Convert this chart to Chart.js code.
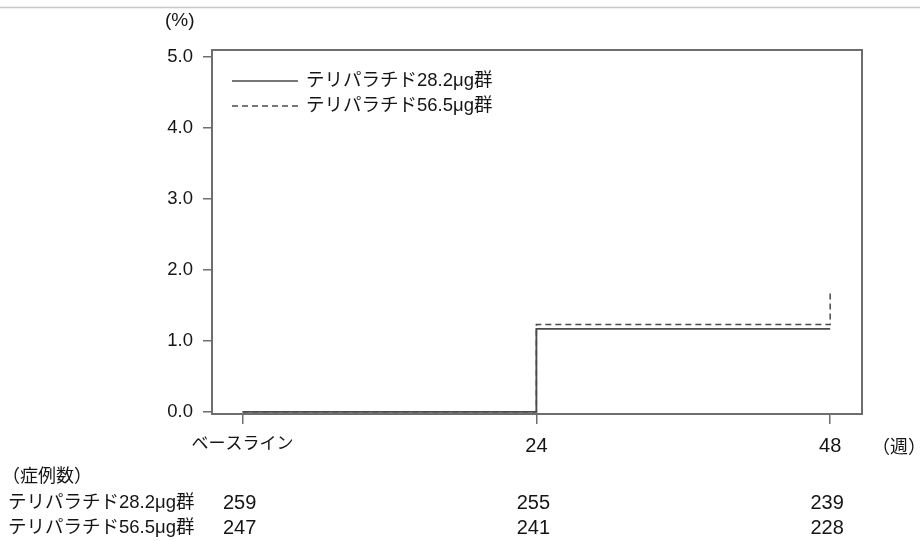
<!DOCTYPE html>
<html lang="ja">
<head>
<meta charset="utf-8">
<script src="https://cdn.jsdelivr.net/npm/chart.js@4/dist/chart.umd.min.js"></script>
<style>
  html, body { margin: 0; padding: 0; background: #fff; }
  #wrap { width: 920px; height: 541px; }
</style>
</head>
<body>
<div id="wrap"><canvas id="c" width="920" height="541"></canvas></div>
<script>
// 累積発現率（%）の推移：テリパラチド2用量群
const tickWeeks = [0, 24, 48];
const tickLabels = ['ベースライン', '24', '48'];
const yTicks = [0, 1, 2, 3, 4, 5];

const seriesNames = ['テリパラチド28.2μg群', 'テリパラチド56.5μg群'];
const weeks28 = [0, 24, 48];
const rate28 = [0, 1.17, 1.17];
const weeks56 = [0, 24, 48, 48];
const rate56 = [0, 1.23, 1.23, 1.67];

// 症例数（各時点）
const atRisk28 = [259, 255, 239];
const atRisk56 = [247, 241, 228];

const FONT_NUM = "'Liberation Sans', Arial, 'Noto Sans CJK JP', sans-serif";
const FONT_JP = "'Noto Sans CJK JP', sans-serif";
const INK = '#151515';
const AXIS = '#6e6e6e';

const toPoints = (xs, ys) => xs.map((x, i) => ({ x: x, y: ys[i] }));

// 枠・凡例・症例数表・上端の罫線
const decorPlugin = {
  id: 'decor',
  afterDraw(chart) {
    const ctx = chart.ctx;
    const a = chart.chartArea;
    const xs = chart.scales.x;
    ctx.save();

    // 上端の罫線
    ctx.strokeStyle = '#c8c8c8';
    ctx.lineWidth = 1.5;
    ctx.beginPath();
    ctx.moveTo(0, 7.5);
    ctx.lineTo(920, 7.5);
    ctx.stroke();

    // プロット枠
    ctx.strokeStyle = AXIS;
    ctx.lineWidth = 2;
    ctx.strokeRect(a.left, a.top, a.right - a.left, a.bottom - a.top);

    // 単位
    ctx.fillStyle = INK;
    ctx.textBaseline = 'middle';
    ctx.textAlign = 'left';
    ctx.font = "19px " + FONT_NUM;
    ctx.fillText('(%)', 165, 21);
    ctx.font = "18px " + FONT_JP;
    ctx.fillText('（週）', 872, 446);

    // 凡例
    const legY = [81, 106];
    chart.data.datasets.forEach((ds, i) => {
      ctx.strokeStyle = ds.borderColor;
      ctx.lineWidth = 1.5;
      ctx.setLineDash(ds.borderDash || []);
      ctx.beginPath();
      ctx.moveTo(a.left + 20, legY[i]);
      ctx.lineTo(a.left + 86, legY[i]);
      ctx.stroke();
      ctx.setLineDash([]);
      ctx.fillStyle = INK;
      ctx.font = "18.5px " + FONT_NUM;
      ctx.textAlign = 'left';
      ctx.fillText(ds.label, a.left + 94, legY[i]);
    });

    // 症例数表
    ctx.fillStyle = INK;
    ctx.font = "18px " + FONT_JP;
    ctx.textAlign = 'left';
    ctx.fillText('（症例数）', 2, 475);
    const rows = [atRisk28, atRisk56];
    const rowY = [503, 528];
    rows.forEach((vals, r) => {
      ctx.textAlign = 'left';
      ctx.font = "18.5px " + FONT_NUM;
      ctx.fillText(seriesNames[r], 8, rowY[r]);
      ctx.textAlign = 'center';
      ctx.font = "20px " + FONT_NUM;
      vals.forEach((v, k) => {
        ctx.fillText(String(v), xs.getPixelForValue(tickWeeks[k]) - 3, rowY[r]);
      });
    });
    ctx.restore();
  }
};

new Chart(document.getElementById('c'), {
  type: 'line',
  data: {
    datasets: [
      {
        label: seriesNames[0],
        data: toPoints(weeks28, rate28),
        borderColor: '#4a4a4a',
        borderWidth: 1.8,
        stepped: 'before',
        pointRadius: 0,
        fill: false
      },
      {
        label: seriesNames[1],
        data: toPoints(weeks56, rate56),
        borderColor: '#4a4a4a',
        borderWidth: 1.5,
        borderDash: [6, 4],
        stepped: 'before',
        pointRadius: 0,
        fill: false
      }
    ]
  },
  options: {
    responsive: false,
    animation: false,
    devicePixelRatio: 1,
    layout: { padding: { left: 157, top: 50, right: 58, bottom: 77 } },
    plugins: { legend: { display: false }, tooltip: { enabled: false } },
    scales: {
      x: {
        type: 'linear',
        min: -2.5,
        max: 50.6,
        afterFit(s) { s.height = 50; },
        afterBuildTicks(s) { s.ticks = tickWeeks.map(v => ({ value: v })); },
        grid: { drawOnChartArea: false, tickLength: 10, color: AXIS, lineWidth: 1.5 },
        border: { display: false },
        ticks: {
          autoSkip: false,
          maxRotation: 0,
          padding: 10,
          color: INK,
          font: (c) => ({ family: FONT_NUM, size: c.index === 0 ? 17 : 20 }),
          callback(v) { const k = tickWeeks.indexOf(v); return k >= 0 ? tickLabels[k] : ''; }
        }
      },
      y: {
        type: 'linear',
        min: -0.03,
        max: 5.1,
        afterFit(s) { s.width = 55; },
        afterBuildTicks(s) { s.ticks = yTicks.map(v => ({ value: v })); },
        grid: { drawOnChartArea: false, tickLength: 9, color: AXIS, lineWidth: 1.5 },
        border: { display: false },
        ticks: {
          padding: 10,
          color: INK,
          font: { family: FONT_NUM, size: 18.5 },
          callback(v) { return Number(v).toFixed(1); }
        }
      }
    }
  },
  plugins: [decorPlugin]
});
</script>
</body>
</html>
